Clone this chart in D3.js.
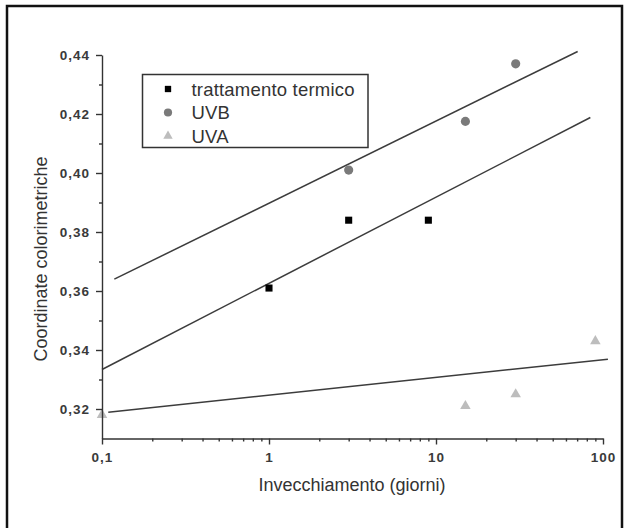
<!doctype html>
<html lang="it">
<head>
    <meta charset="utf-8">
    <title>Coordinate colorimetriche</title>
    <script src="https://cdnjs.cloudflare.com/ajax/libs/d3/7.8.5/d3.min.js"></script>
    <style>
        body { margin: 0; background: #fff; }
        svg text { font-family: "Liberation Sans", Arial, sans-serif; }
        .tick text { font-size: 13.5px; font-weight: bold; fill: #3a3a3a; letter-spacing: 1px; }
        .axis path, .axis line { stroke: #333; stroke-width: 1.4; }
    </style>
</head>
<body>
    <div id="chart"></div>
    <script>
        // data
        var termicoX = [1, 3, 9];
        var termicoY = [0.361, 0.384, 0.384];
        var uvbX = [3, 15, 30];
        var uvbY = [0.401, 0.4175, 0.437];
        var uvaX = [0.1, 15, 30, 90];
        var uvaY = [0.318, 0.321, 0.325, 0.343];

        // fitted lines (end points)
        var fitUVB = [[0.1185, 0.364], [70.5, 0.4412]];
        var fitTermico = [[0.1, 0.3334], [84, 0.4188]];
        var fitUVA = [[0.109, 0.3189], [107, 0.3369]];

        var xMajor = [0.1, 1, 10, 100];
        var xMinor = [0.2, 0.3, 0.4, 0.5, 0.6, 0.7, 0.8, 0.9, 2, 3, 4, 5, 6, 7, 8, 9, 20, 30, 40, 50, 60, 70, 80, 90];
        var yMajor = [0.32, 0.34, 0.36, 0.38, 0.40, 0.42, 0.44];
        var yMinor = [0.33, 0.35, 0.37, 0.39, 0.41, 0.43];

        var legendLabels = ['trattamento termico', 'UVB', 'UVA'];

        var width = 629, height = 528;

        var svg = d3.select('#chart')
            .append('svg')
            .attr('width', width)
            .attr('height', height);

        // outer frame
        svg.append('path')
            .attr('d', 'M7,540 L7,6 L622,6 L622,540')
            .attr('fill', 'none')
            .attr('stroke', '#111')
            .attr('stroke-width', 2.5);

        var x = d3.scaleLog().domain([0.1, 100]).range([102, 603]);
        var y = d3.scaleLinear().domain([0.31, 0.44]).range([438.5, 55]);

        function comma(d) { return String(+d.toFixed(2)).replace('.', ','); }
        function commaY(d) { return d.toFixed(2).replace('.', ','); }

        // minor ticks first
        svg.append('g')
            .attr('class', 'axis')
            .attr('transform', 'translate(102,0)')
            .call(d3.axisLeft(y).tickValues(yMinor).tickSize(3).tickFormat(''))
            .select('.domain').remove();

        svg.append('g')
            .attr('class', 'axis')
            .attr('transform', 'translate(0,438.5)')
            .call(d3.axisBottom(x).tickValues(xMinor).tickSize(3).tickFormat(''))
            .select('.domain').remove();

        // fit lines
        var line = d3.line()
            .x(function(d) { return x(d[0]); })
            .y(function(d) { return y(d[1]); });

        [fitUVB, fitTermico, fitUVA].forEach(function(f) {
            svg.append('path')
                .attr('d', line(f))
                .attr('fill', 'none')
                .attr('stroke', '#3c3c3c')
                .attr('stroke-width', 1.5);
        });

        var series = [
            { xs: termicoX, ys: termicoY, type: d3.symbolSquare, size: 50, color: '#000' },
            { xs: uvbX, ys: uvbY, type: d3.symbolCircle, size: 66, color: '#7a7a7a' },
            { xs: uvaX, ys: uvaY, type: d3.symbolTriangle, size: 48, color: '#bdbdbd' }
        ];

        series.forEach(function(s) {
            svg.append('g').selectAll('path')
                .data(s.xs.map(function(v, i) { return [v, s.ys[i]]; }))
                .enter().append('path')
                .attr('transform', function(d) { return 'translate(' + x(d[0]) + ',' + y(d[1]) + ')'; })
                .attr('d', d3.symbol().type(s.type).size(s.size))
                .attr('fill', s.color);
        });

        svg.append('g')
            .attr('class', 'axis')
            .attr('transform', 'translate(102,0)')
            .call(d3.axisLeft(y).tickValues(yMajor).tickSize(6).tickSizeOuter(0).tickPadding(6).tickFormat(commaY));

        svg.append('g')
            .attr('class', 'axis')
            .attr('transform', 'translate(0,438.5)')
            .call(d3.axisBottom(x).tickValues(xMajor).tickSize(6).tickSizeOuter(0).tickPadding(8).tickFormat(comma));

        // axis titles
        svg.append('text')
            .attr('x', 352)
            .attr('y', 491)
            .attr('text-anchor', 'middle')
            .attr('font-size', 18)
            .attr('fill', '#333')
            .text('Invecchiamento (giorni)');

        svg.append('text')
            .attr('transform', 'translate(47,259) rotate(-90)')
            .attr('text-anchor', 'middle')
            .attr('font-size', 18)
            .attr('fill', '#333')
            .text('Coordinate colorimetriche');

        // legend
        var legend = svg.append('g');
        legend.append('rect')
            .attr('x', 142.5).attr('y', 74.5)
            .attr('width', 225.5).attr('height', 73)
            .attr('fill', '#fff')
            .attr('stroke', '#333')
            .attr('stroke-width', 1.5);

        var legendY = d3.scalePoint().domain(legendLabels).range([89, 136]);

        legendLabels.forEach(function(lab, i) {
            var s = series[i];
            legend.append('path')
                .attr('transform', 'translate(168,' + legendY(lab) + ')')
                .attr('d', d3.symbol().type(s.type).size(s.size * 0.8))
                .attr('fill', s.color);
            legend.append('text')
                .attr('x', 191.5)
                .attr('y', legendY(lab) + 6.5)
                .attr('font-size', 18.5)
                .attr('letter-spacing', 0.2)
                .attr('fill', '#333')
                .text(lab);
        });
    </script>
</body>
</html>
